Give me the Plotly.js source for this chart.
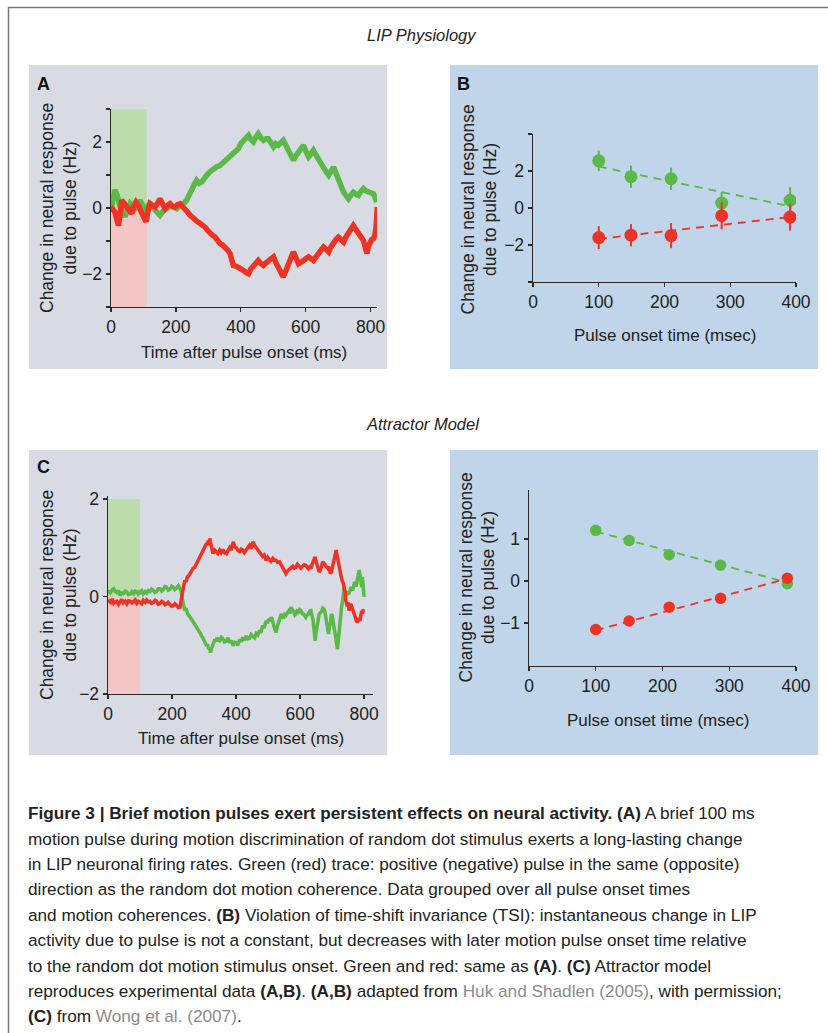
<!DOCTYPE html>
<html>
<head>
<meta charset="utf-8">
<script src="https://cdn.plot.ly/plotly-3.0.1.min.js"></script>
<style>html,body{margin:0;padding:0;background:#fff;}#chart{width:828px;height:1033px;}</style>
</head>
<body>
<div id="chart"></div>
<script>
// ---------- Panel A: LIP physiology time course ----------
const aGreenT = [0,12,20,28,36,43,51,59,66,74,82,89,97,105,112,120,128,136,144,151,160,172,182,192,203,213,223,233,241,249,257,264,272,280,288,295,305,316,326,336,346,357,367,377,385,393,400,408,416,424,431,439,447,454,462,470,478,485,493,501,508,516,524,531,539,547,555,562,570,578,586,593,601,609,617,624,632,640,648,655,663,671,678,686,694,701,709,717,724,732,740,747,755,763,770,778,786,794,801,809,815,819];
const aGreenV = [-0.07,0.55,0.35,0.03,-0.1,-0.27,-0.05,0.13,0.05,-0.02,0.1,0.23,0.1,-0.02,0.05,0.13,0.02,-0.07,-0.12,-0.22,-0.1,0,0.05,0.03,-0.02,0.08,0.12,0.23,0.42,0.59,0.72,0.84,0.75,0.79,0.92,0.99,1.1,1.19,1.25,1.29,1.38,1.44,1.55,1.65,1.7,1.8,1.95,2.05,2.12,2.2,2.08,2.0,2.15,2.25,2.12,2.05,2.1,2.1,1.98,1.85,1.95,1.9,1.98,2.05,1.9,1.75,1.6,1.45,1.58,1.7,1.8,1.9,1.72,1.55,1.65,1.75,1.6,1.45,1.35,1.24,1.1,0.99,1.1,1.24,1.05,0.84,0.65,0.48,0.38,0.28,0.4,0.48,0.42,0.38,0.5,0.59,0.52,0.48,0.46,0.43,0.3,0.18];
const aRedT = [0,6,12,18,23,28,33,40,48,56,64,70,77,83,89,96,102,108,114,120,128,136,144,151,159,167,175,182,190,197,205,213,220,228,236,244,252,259,267,275,283,290,298,305,313,321,328,336,344,352,360,367,372,377,385,393,400,408,416,424,431,439,447,454,462,470,478,485,493,501,508,516,524,531,539,547,555,562,570,578,586,593,601,609,617,624,632,640,648,655,663,671,678,686,694,701,709,717,724,732,740,747,755,763,770,778,784,789,794,799,804,809,814,817,819,821];
const aRedV = [0.03,-0.05,-0.12,-0.35,-0.53,-0.2,0.23,0.15,0.03,-0.1,-0.17,0.05,0.18,0.1,-0.02,-0.2,-0.35,-0.42,-0.1,0.13,0.08,0.03,0.15,0.28,0.12,-0.02,0.08,0.13,0.05,0.03,0.1,0.13,0.05,-0.02,-0.12,-0.22,-0.3,-0.37,-0.42,-0.47,-0.52,-0.58,-0.68,-0.78,-0.83,-0.88,-0.98,-1.08,-1.12,-1.18,-1.28,-1.38,-1.6,-1.74,-1.76,-1.79,-1.85,-1.89,-1.95,-1.99,-1.85,-1.74,-1.65,-1.59,-1.68,-1.74,-1.66,-1.59,-1.52,-1.48,-1.65,-1.84,-1.98,-2.09,-1.9,-1.69,-1.5,-1.33,-1.5,-1.69,-1.64,-1.59,-1.52,-1.48,-1.54,-1.59,-1.48,-1.38,-1.28,-1.18,-1.25,-1.33,-1.18,-1.03,-0.95,-0.88,-0.95,-1.03,-0.88,-0.73,-0.62,-0.53,-0.65,-0.78,-0.88,-0.98,-1.2,-1.38,-1.15,-0.98,-0.95,-0.93,-0.8,-0.58,-0.25,0.03];

// ---------- Panel B: LIP physiology vs pulse onset ----------
const bOnset = [100, 149, 210, 287, 391];
const bGreen = [2.55, 1.69, 1.58, 0.27, 0.42];
const bGreenErr = [0.55, 0.6, 0.6, 0.6, 0.7];
const bRed = [-1.6, -1.47, -1.49, -0.42, -0.49];
const bRedErr = [0.62, 0.6, 0.68, 0.73, 0.73];
const bFitX = [100, 393];
const bFitGreen = [2.24, 0.08];
const bFitRed = [-1.67, -0.48];

// ---------- Panel C: attractor model time course ----------
const cGreenT = [0,4,8,13,18,23,28,33,38,43,48,54,59,64,70,75,80,85,90,95,100,105,110,116,121,126,131,136,142,147,152,157,163,168,173,178,183,188,194,199,204,209,214,220,225,229,232,236,240,244,248,252,256,261,266,271,277,281,285,289,292,296,300,304,308,311,314,317,320,323,327,330,334,337,341,345,349,354,359,364,370,375,380,385,391,396,401,406,411,416,421,426,432,437,442,447,453,458,463,468,473,478,483,488,494,498,502,506,510,514,518,521,525,529,533,537,541,545,548,552,556,560,564,568,572,576,580,584,587,591,595,599,603,607,611,615,618,622,626,630,634,637,641,644,647,650,653,657,660,664,668,671,675,678,682,686,689,692,695,698,701,705,709,713,717,720,722,725,727,730,733,736,738,741,743,746,748,752,756,760,764,768,771,775,779,782,785,788,790,793,795,798,800,803,805,808,810];
const cGreenV = [0.06,0.12,0.08,0.14,0.16,0.1,0.08,0.12,0.02,0.07,0.06,0.11,0.09,0.04,0.05,0.1,0.06,0.11,0.1,0.05,0.09,0.12,0.05,0.1,0.07,0.12,0.1,0.15,0.12,0.08,0.1,0.16,0.16,0.11,0.14,0.2,0.19,0.13,0.15,0.21,0.19,0.14,0.17,0.22,0.16,0.1,-0.05,-0.18,-0.29,-0.24,-0.35,-0.38,-0.43,-0.46,-0.52,-0.57,-0.63,-0.66,-0.7,-0.76,-0.81,-0.84,-0.9,-0.96,-1.01,-0.98,-1.08,-1.05,-1.15,-1.08,-1.0,-0.94,-0.88,-0.92,-0.85,-0.9,-0.91,-0.84,-0.87,-0.93,-0.91,-0.85,-0.95,-0.9,-1.01,-0.94,-0.95,-1.0,-0.88,-0.93,-0.84,-0.9,-0.81,-0.87,-0.86,-0.78,-0.81,-0.85,-0.76,-0.79,-0.7,-0.74,-0.6,-0.65,-0.5,-0.55,-0.46,-0.5,-0.43,-0.48,-0.6,-0.68,-0.74,-0.62,-0.55,-0.46,-0.36,-0.42,-0.45,-0.37,-0.39,-0.34,-0.3,-0.35,-0.22,-0.28,-0.3,-0.38,-0.36,-0.3,-0.32,-0.27,-0.29,-0.35,-0.36,-0.4,-0.43,-0.38,-0.36,-0.3,-0.29,-0.38,-0.5,-0.7,-0.91,-0.75,-0.6,-0.45,-0.36,-0.33,-0.3,-0.24,-0.26,-0.32,-0.5,-0.65,-0.77,-0.62,-0.55,-0.36,-0.4,-0.58,-0.7,-0.9,-1.08,-0.85,-0.75,-0.55,-0.43,-0.2,-0.1,0.1,0.19,0.05,0.1,0.02,0.1,0.05,0.15,0.19,0.12,0.25,0.3,0.2,0.4,0.45,0.54,0.35,0.3,0.19,0.4,0.15,-0.01];
const cRedT = [0,4,8,13,18,23,28,33,38,43,48,54,59,64,70,75,80,85,90,95,100,105,110,116,121,126,131,136,142,147,152,157,163,168,173,178,183,188,194,199,204,209,214,220,225,229,232,236,240,244,248,252,256,261,266,271,277,281,285,289,292,296,300,304,308,311,313,316,318,320,323,326,328,333,338,343,349,354,359,364,370,375,380,385,391,396,401,406,411,416,421,426,432,437,442,447,453,458,463,468,473,478,483,488,494,499,504,509,515,520,525,530,536,541,546,551,556,561,566,572,577,582,587,592,598,603,608,613,618,622,626,630,634,637,641,644,647,650,653,657,660,664,668,671,675,678,682,686,689,692,695,698,701,705,709,713,717,720,722,725,727,730,733,736,738,741,743,746,748,751,753,756,758,761,764,767,769,773,776,780,784,787,790,793,795,798,800,803,805];
const cRedV = [-0.07,-0.1,-0.12,-0.05,-0.14,-0.11,-0.1,-0.16,-0.1,-0.06,-0.13,-0.1,-0.15,-0.09,-0.1,-0.13,-0.1,-0.07,-0.14,-0.1,-0.12,-0.15,-0.08,-0.12,-0.07,-0.11,-0.1,-0.14,-0.12,-0.08,-0.1,-0.16,-0.14,-0.1,-0.12,-0.17,-0.15,-0.12,-0.17,-0.2,-0.19,-0.15,-0.18,-0.23,-0.22,-0.1,0.05,0.2,0.33,0.3,0.4,0.42,0.47,0.5,0.58,0.6,0.68,0.72,0.78,0.8,0.85,0.92,0.98,1.0,1.09,1.05,1.15,1.1,1.19,1.12,1.05,0.95,0.88,0.95,0.92,0.88,0.95,0.9,0.96,0.9,0.88,0.94,1.0,0.95,1.12,1.02,1.0,0.94,0.92,0.97,0.95,0.9,0.95,1.02,1.05,0.98,1.12,1.05,1.0,0.95,0.92,0.88,0.82,0.85,0.74,0.8,0.76,0.72,0.78,0.74,0.74,0.7,0.71,0.65,0.6,0.55,0.47,0.52,0.55,0.57,0.62,0.58,0.6,0.66,0.61,0.58,0.62,0.65,0.64,0.6,0.57,0.6,0.57,0.65,0.7,0.75,0.81,0.72,0.65,0.58,0.5,0.55,0.62,0.71,0.68,0.66,0.61,0.58,0.61,0.55,0.47,0.5,0.58,0.7,0.82,0.95,0.8,0.7,0.55,0.47,0.42,0.36,0.3,0.26,0.15,0.1,-0.08,-0.15,-0.2,-0.12,-0.29,-0.22,-0.15,-0.2,-0.25,-0.3,-0.38,-0.43,-0.5,-0.53,-0.45,-0.5,-0.38,-0.3,-0.35,-0.26];

// ---------- Panel D: attractor model vs pulse onset ----------
const dOnset = [100, 150, 210, 287, 387];
const dGreen = [1.21, 0.97, 0.63, 0.38, -0.06];
const dRed = [-1.15, -0.95, -0.62, -0.41, 0.07];
const dFitX = [100, 387];
const dFitGreen = [1.18, -0.03];
const dFitRed = [-1.17, 0.06];

// ---------- Tick labels & text ----------
const timeTicks = [0, 200, 400, 600, 800];
const onsetTicks = [0, 100, 200, 300, 400];
const aYTicks = [-3, -2, -1, 0, 1, 2, 3];
const aYText = ['', '\u22122', '', '0', '', '2', ''];
const bYTicks = [-4, -2, 0, 2, 4];
const bYText = ['', '\u22122', '0', '2', ''];
const cYTicks = [-2, 0, 2];
const dYTicks = [-1, 0, 1];
const yTitle = 'Change in neural response<br>due to pulse (Hz)';
const timeTitle = 'Time after pulse onset (ms)';
const onsetTitle = 'Pulse onset time (msec)';
const captionLines = [
  "<b>Figure 3 | Brief motion pulses exert persistent effects on neural activity. (A)</b> A brief 100 ms",
  "motion pulse during motion discrimination of random dot stimulus exerts a long-lasting change",
  "in LIP neuronal firing rates. Green (red) trace: positive (negative) pulse in the same (opposite)",
  "direction as the random dot motion coherence. Data grouped over all pulse onset times",
  "and motion coherences. <b>(B)</b> Violation of time-shift invariance (TSI): instantaneous change in LIP",
  "activity due to pulse is not a constant, but decreases with later motion pulse onset time relative",
  "to the random dot motion stimulus onset. Green and red: same as <b>(A)</b>. <b>(C)</b> Attractor model",
  "reproduces experimental data <b>(A,B)</b>. <b>(A,B)</b> adapted from <span style='color:#8c8c8c'>Huk and Shadlen (2005)</span>, with permission;",
  "<b>(C)</b> from <span style='color:#8c8c8c'>Wong et al. (2007)</span>."
];

// ---------- Styling ----------
const W = 828, H = 1033;
const px = x => x / W;
const py = y => 1 - y / H;
const GREEN = '#5bb947', RED = '#ee3224';
const SHADE_G = '#bcdcab', SHADE_R = '#f3c5c5';
const BG_A = '#d8dbe3', BG_B = '#c0d5e9';
const AX = '#2a2a2a';
const FONT = 'Liberation Sans, Arial, sans-serif';
const tickFont = {family: FONT, size: 17.5, color: '#222'};

function axis(extra) {
  return Object.assign({
    showgrid: false, zeroline: false, showline: true, linecolor: AX, linewidth: 1.4,
    ticks: 'outside', ticklen: 4, tickwidth: 1.4, tickcolor: AX, tickfont: tickFont,
    fixedrange: true, automargin: false, tickmode: 'array'
  }, extra);
}

const traces = [
  {x: aGreenT, y: aGreenV, xaxis: 'x', yaxis: 'y', mode: 'lines', line: {color: GREEN, width: 5.5}, hoverinfo: 'skip'},
  {x: aRedT, y: aRedV, xaxis: 'x', yaxis: 'y', mode: 'lines', line: {color: RED, width: 5.5}, hoverinfo: 'skip'},

  {x: bFitX, y: bFitGreen, xaxis: 'x2', yaxis: 'y2', mode: 'lines', line: {color: GREEN, width: 1.8, dash: '8px,6px'}},
  {x: bFitX, y: bFitRed, xaxis: 'x2', yaxis: 'y2', mode: 'lines', line: {color: RED, width: 1.8, dash: '8px,6px'}},
  {x: bOnset, y: bGreen, xaxis: 'x2', yaxis: 'y2', mode: 'markers', marker: {color: GREEN, size: 13},
   error_y: {type: 'data', array: bGreenErr, color: GREEN, thickness: 2, width: 0}},
  {x: bOnset, y: bRed, xaxis: 'x2', yaxis: 'y2', mode: 'markers', marker: {color: RED, size: 13},
   error_y: {type: 'data', array: bRedErr, color: RED, thickness: 2, width: 0}},

  {x: cGreenT, y: cGreenV, xaxis: 'x3', yaxis: 'y3', mode: 'lines', line: {color: GREEN, width: 3.5}, hoverinfo: 'skip'},
  {x: cRedT, y: cRedV, xaxis: 'x3', yaxis: 'y3', mode: 'lines', line: {color: RED, width: 3.5}, hoverinfo: 'skip'},

  {x: dFitX, y: dFitGreen, xaxis: 'x4', yaxis: 'y4', mode: 'lines', line: {color: GREEN, width: 1.8, dash: '8px,6px'}},
  {x: dFitX, y: dFitRed, xaxis: 'x4', yaxis: 'y4', mode: 'lines', line: {color: RED, width: 1.8, dash: '8px,6px'}},
  {x: dOnset, y: dGreen, xaxis: 'x4', yaxis: 'y4', mode: 'markers', marker: {color: GREEN, size: 11.5}},
  {x: dOnset, y: dRed, xaxis: 'x4', yaxis: 'y4', mode: 'markers', marker: {color: RED, size: 11.5}}
];

const shapes = [
  // frame
  {type: 'line', xref: 'paper', yref: 'paper', x0: px(8), x1: 1, y0: py(7.5), y1: py(7.5), line: {color: '#7a7a7a', width: 1.5}},
  {type: 'line', xref: 'paper', yref: 'paper', x0: px(8.5), x1: px(8.5), y0: py(7), y1: 0, line: {color: '#7a7a7a', width: 1.5}},
  // panel backgrounds
  {type: 'rect', xref: 'paper', yref: 'paper', layer: 'below', x0: px(29), x1: px(387), y0: py(65), y1: py(369), fillcolor: BG_A, line: {width: 0}},
  {type: 'rect', xref: 'paper', yref: 'paper', layer: 'below', x0: px(450), x1: px(818), y0: py(65), y1: py(369), fillcolor: BG_B, line: {width: 0}},
  {type: 'rect', xref: 'paper', yref: 'paper', layer: 'below', x0: px(29), x1: px(387), y0: py(450), y1: py(755), fillcolor: BG_A, line: {width: 0}},
  {type: 'rect', xref: 'paper', yref: 'paper', layer: 'below', x0: px(450), x1: px(818), y0: py(450), y1: py(755), fillcolor: BG_B, line: {width: 0}},
  // pulse windows
  {type: 'rect', xref: 'x', yref: 'y', layer: 'below', x0: 0, x1: 110, y0: 0, y1: 3, fillcolor: SHADE_G, line: {width: 0}},
  {type: 'rect', xref: 'x', yref: 'y', layer: 'below', x0: 0, x1: 110, y0: -3, y1: 0, fillcolor: SHADE_R, line: {width: 0}},
  {type: 'rect', xref: 'x3', yref: 'y3', layer: 'below', x0: 0, x1: 100, y0: 0, y1: 2, fillcolor: SHADE_G, line: {width: 0}},
  {type: 'rect', xref: 'x3', yref: 'y3', layer: 'below', x0: 0, x1: 100, y0: -2, y1: 0, fillcolor: SHADE_R, line: {width: 0}}
];

function note(text, x, y, opts) {
  return Object.assign({text: text, xref: 'paper', yref: 'paper', x: px(x), y: py(y),
    showarrow: false, xanchor: 'center', yanchor: 'middle',
    font: {family: FONT, size: 17, color: '#222'}}, opts || {});
}

const annotations = [
  note('<i>LIP Physiology</i>', 422, 35, {font: {family: FONT, size: 16.5, color: '#222'}}),
  note('<i>Attractor Model</i>', 423, 424, {font: {family: FONT, size: 16.5, color: '#222'}}),
  note('<b>A</b>', 43, 84, {font: {family: FONT, size: 18, color: '#111'}}),
  note('<b>B</b>', 463, 84, {font: {family: FONT, size: 18, color: '#111'}}),
  note('<b>C</b>', 43, 467, {font: {family: FONT, size: 18, color: '#111'}}),
  note(yTitle, 58, 208, {textangle: -90, font: {family: FONT, size: 17.5, color: '#222'}}),
  note(yTitle, 478.5, 210, {textangle: -90, font: {family: FONT, size: 17.5, color: '#222'}}),
  note(yTitle, 58, 595, {textangle: -90, font: {family: FONT, size: 17.5, color: '#222'}}),
  note(yTitle, 476.5, 578, {textangle: -90, font: {family: FONT, size: 17.5, color: '#222'}}),
  note(timeTitle, 244, 352),
  note(onsetTitle, 665, 335),
  note(timeTitle, 241, 738),
  note(onsetTitle, 658, 720)
];
const capFont = {family: 'Liberation Sans, Arial, sans-serif', size: 17.2, color: '#222'};
const capY = [813, 839, 864, 889, 915, 940, 966, 991, 1016];
captionLines.forEach((t, i) => annotations.push(note(t, 26, capY[i], {xanchor: 'left', align: 'left', font: capFont})));

const layout = {
  width: W, height: H, margin: {l: 0, r: 0, t: 0, b: 0},
  paper_bgcolor: '#fff', plot_bgcolor: 'rgba(0,0,0,0)', showlegend: false,
  font: {family: FONT, color: '#222'},
  xaxis: axis({domain: [px(111), px(377)], range: [0, 820], anchor: 'y', tickvals: timeTicks}),
  yaxis: axis({domain: [py(307), py(109)], range: [-3, 3], anchor: 'x', tickvals: aYTicks, ticktext: aYText}),
  xaxis2: axis({domain: [px(533), px(796)], range: [0, 400], anchor: 'y2', tickvals: onsetTicks}),
  yaxis2: axis({domain: [py(282), py(134)], range: [-4, 4], anchor: 'x2', tickvals: bYTicks, ticktext: bYText}),
  xaxis3: axis({domain: [px(108), px(373)], range: [0, 828], anchor: 'y3', tickvals: timeTicks}),
  yaxis3: axis({domain: [py(694), py(496)], range: [-2, 2.06], anchor: 'x3', tickvals: cYTicks}),
  xaxis4: axis({domain: [px(529), px(796)], range: [0, 400], anchor: 'y4', tickvals: onsetTicks}),
  yaxis4: axis({domain: [py(666), py(490)], range: [-2.02, 2.17], anchor: 'x4', tickvals: dYTicks}),
  shapes: shapes, annotations: annotations
};

Plotly.newPlot('chart', traces, layout, {staticPlot: true, displayModeBar: false});
</script>
</body>
</html>
